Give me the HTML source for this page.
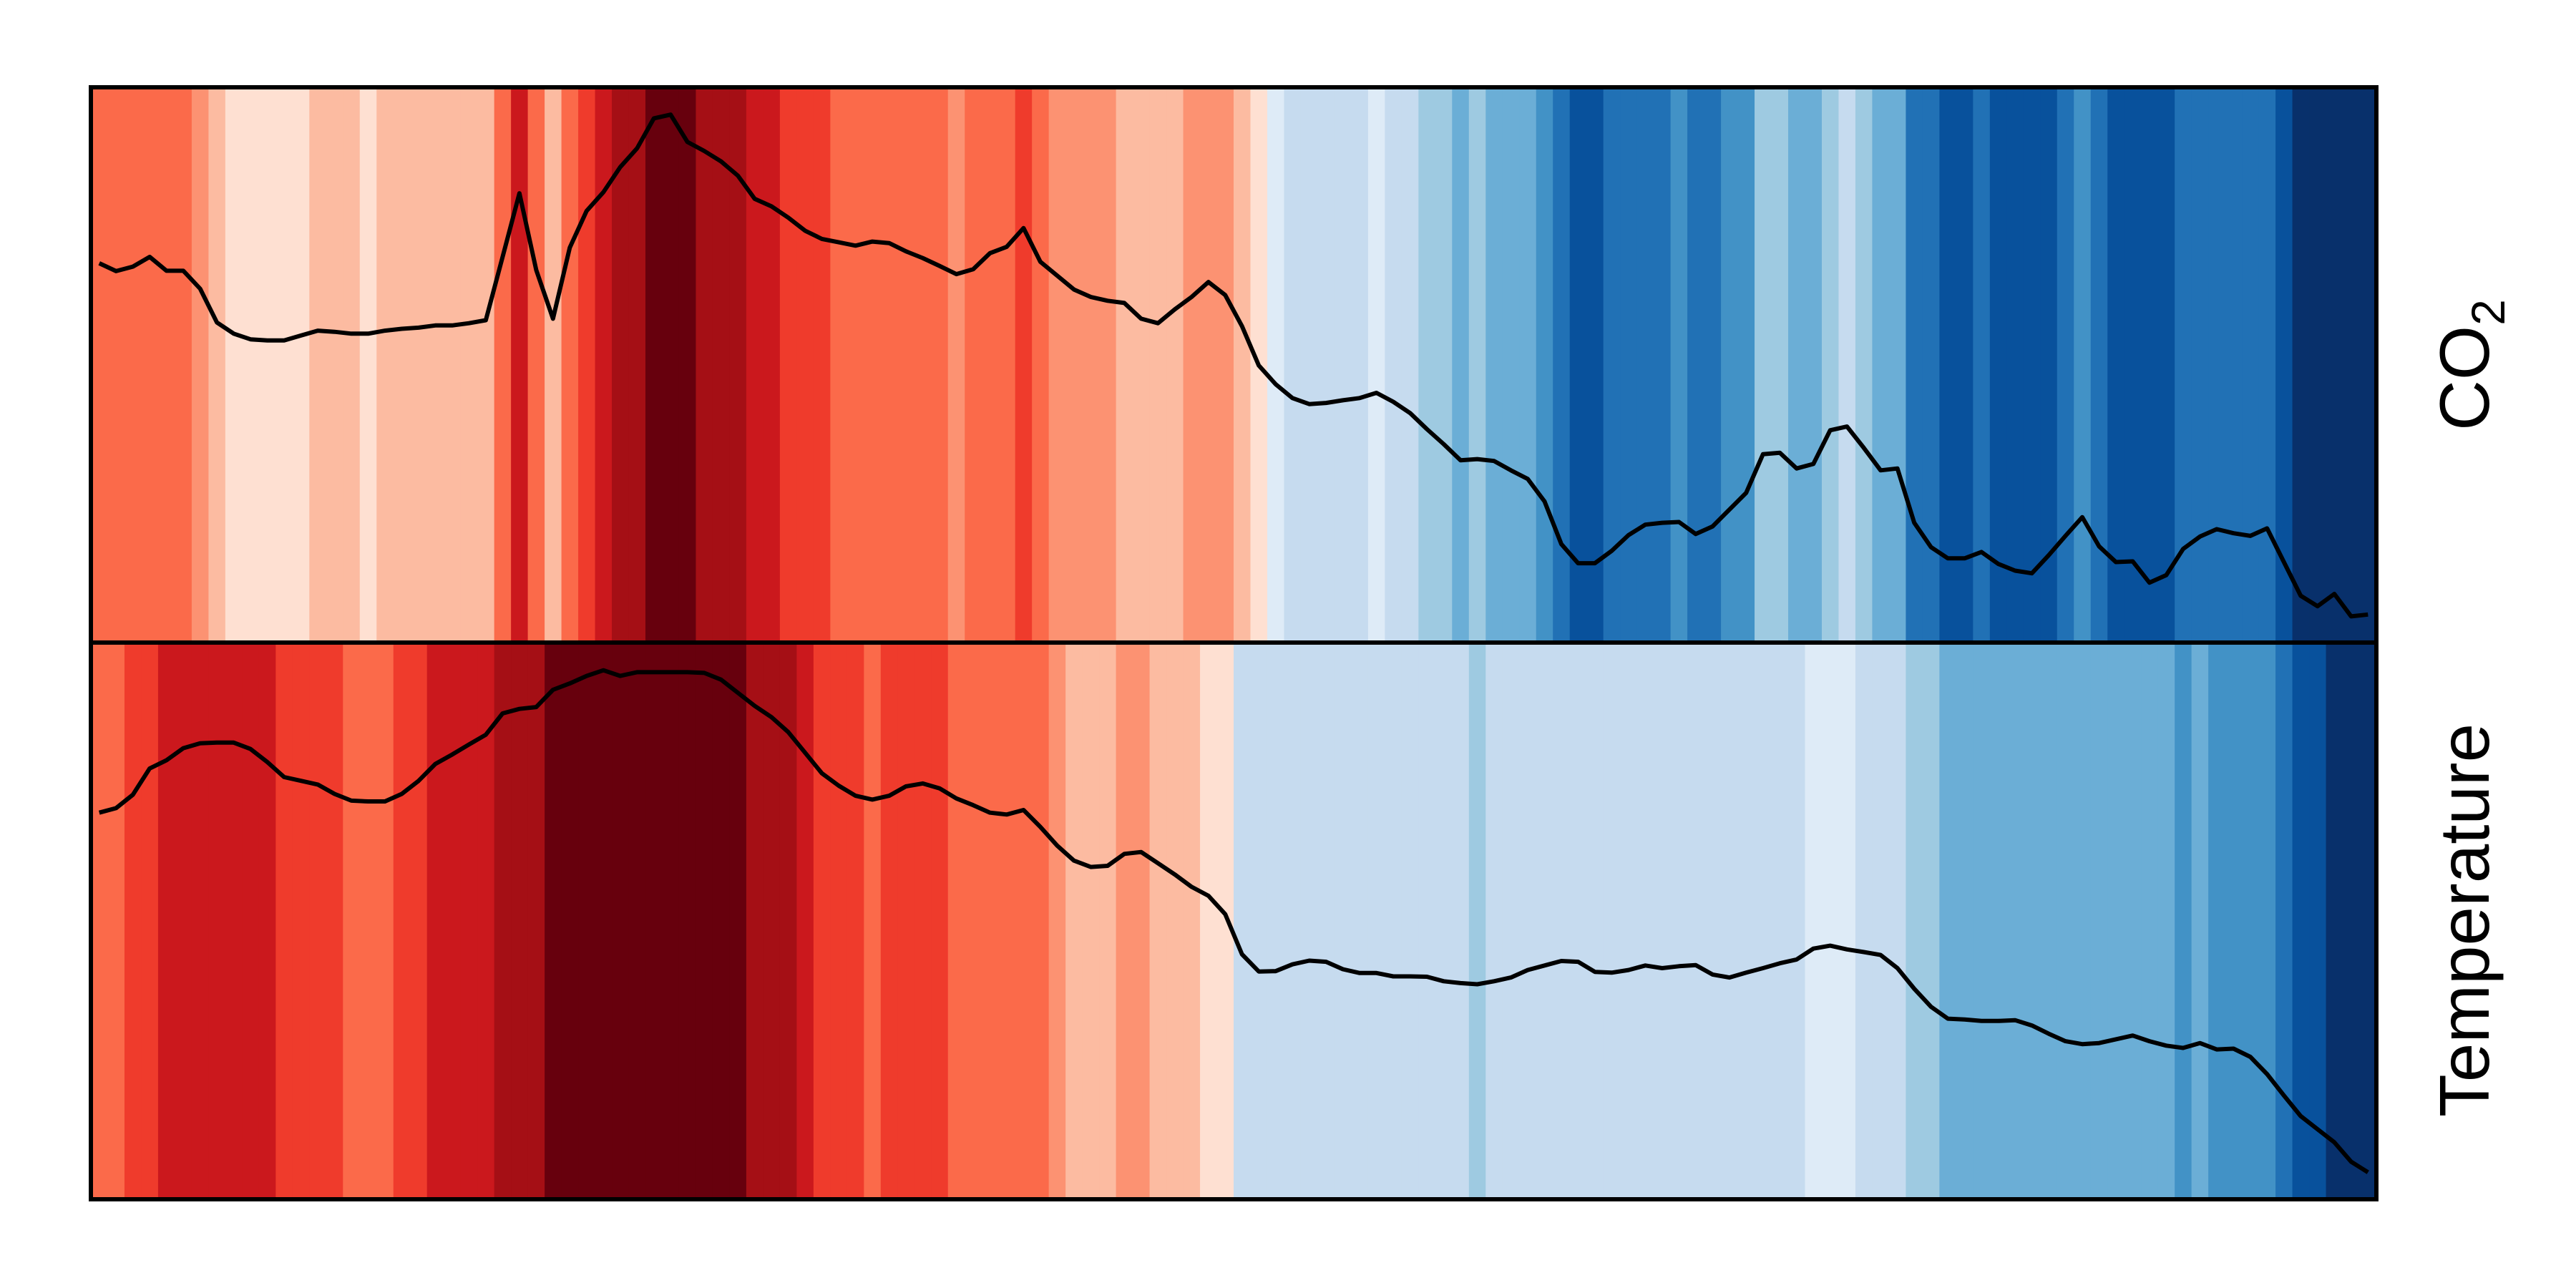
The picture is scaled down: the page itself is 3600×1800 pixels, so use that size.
<!DOCTYPE html>
<html><head><meta charset="utf-8"><style>
html,body{margin:0;padding:0;background:#fff;}
svg{display:block;}
</style></head><body>
<svg id="chart" width="3600" height="1800" viewBox="0 0 3600 1800" xmlns="http://www.w3.org/2000/svg">
<rect x="0" y="0" width="3600" height="1800" fill="#fff"/>
<g id="co2-panel"></g>
<g id="temp-panel"></g>
<text transform="translate(3478,510) rotate(-90)" text-anchor="middle" font-family="Liberation Sans, Arial, sans-serif" font-size="98">CO<tspan font-size="66" dy="22">2</tspan></text>
<text transform="translate(3478,1286) rotate(-90)" text-anchor="middle" font-family="Liberation Sans, Arial, sans-serif" font-size="98">Temperature</text>
</svg>
<script>
// Stripe colour levels: 1..8 = Reds light->dark, -1..-8 = Blues light->dark
const co2Levels = [4,4,4,4,4,4,3,2,1,1,1,1,1,2,2,2,1,2,2,2,2,2,2,2,4,6,4,2,4,5,6,7,7,8,8,8,7,7,7,6,6,5,5,5,4,4,4,4,4,4,4,3,4,4,4,5,4,3,3,3,3,2,2,2,2,3,3,3,2,1,-1,-2,-2,-2,-2,-2,-1,-2,-2,-3,-3,-4,-3,-4,-4,-4,-5,-6,-7,-7,-6,-6,-6,-6,-5,-6,-6,-5,-5,-3,-3,-4,-4,-3,-2,-3,-4,-4,-6,-6,-7,-7,-6,-7,-7,-7,-7,-6,-5,-6,-7,-7,-7,-7,-6,-6,-6,-6,-6,-6,-7,-8,-8,-8,-8,-8];
const tempLevels = [4,4,5,5,6,6,6,6,6,6,6,5,5,5,5,4,4,4,5,5,6,6,6,6,7,7,7,8,8,8,8,8,8,8,8,8,8,8,8,7,7,7,6,5,5,5,4,5,5,5,5,4,4,4,4,4,4,3,2,2,2,3,3,2,2,2,1,1,-2,-2,-2,-2,-2,-2,-2,-2,-2,-2,-2,-2,-2,-2,-3,-2,-2,-2,-2,-2,-2,-2,-2,-2,-2,-2,-2,-2,-2,-2,-2,-2,-2,-2,-1,-1,-1,-2,-2,-2,-3,-3,-4,-4,-4,-4,-4,-4,-4,-4,-4,-4,-4,-4,-4,-4,-5,-4,-5,-5,-5,-5,-6,-7,-7,-8,-8,-8];
// Line series (height above panel floor, arbitrary units)
const co2Values = [1013,992,1004,1030,993,993,945,855,825,810,807,807,820,833,830,825,825,833,838,841,847,847,853,861,1030,1200,995,865,1055,1153,1203,1270,1320,1400,1410,1337,1313,1285,1247,1185,1165,1135,1100,1078,1069,1060,1071,1067,1045,1027,1006,984,997,1040,1057,1107,1017,980,943,923,913,907,865,853,890,923,963,928,845,740,690,653,637,640,647,653,667,643,613,570,530,487,490,485,460,437,377,263,212,212,245,287,315,320,322,290,310,355,400,503,507,465,477,567,577,520,460,465,320,255,225,225,242,210,192,185,233,285,335,257,215,217,160,180,250,283,303,292,285,305,215,125,97,130,70,75];
const tempValues = [1032,1044,1080,1150,1172,1204,1217,1219,1219,1202,1167,1127,1117,1107,1082,1064,1062,1062,1082,1117,1162,1187,1214,1240,1297,1309,1314,1360,1377,1397,1412,1397,1407,1407,1407,1407,1405,1387,1352,1317,1287,1247,1192,1137,1104,1077,1067,1077,1102,1110,1097,1070,1052,1032,1027,1039,994,944,904,887,890,922,927,897,867,834,810,761,654,608,609,627,637,634,614,604,604,595,595,594,582,577,574,582,592,612,624,636,634,607,605,612,624,617,622,625,600,592,605,617,630,640,669,677,667,660,652,617,562,514,482,480,476,476,478,464,442,422,414,417,427,437,422,410,404,417,400,402,380,334,277,222,187,152,100,72];

const reds = ['#ffffff','#fee0d2','#fcbba1','#fc9272','#fb6a4a','#ef3b2c','#cb181d','#a50f15','#67000d'];
const blues = ['#ffffff','#deebf7','#c6dbef','#9ecae1','#6baed6','#4292c6','#2171b5','#08519c','#08306b'];
function colorFor(l){ return l>0 ? reds[l] : blues[-l]; }

const NS='http://www.w3.org/2000/svg';
const X0=127, X1=3321;
function drawPanel(g, levels, values, top, bottom, vmax, nameBase){
  const n = levels.length;
  const w = (X1-X0)/n;
  const xs = i => X0 + w*i;
  const ys = v => bottom - (v/vmax)*(bottom-top);
  for(let i=0;i<n;i++){
    const r=document.createElementNS(NS,'rect');
    r.setAttribute('x', xs(i)); r.setAttribute('y', top);
    r.setAttribute('width', w+0.8); r.setAttribute('height', bottom-top);
    r.setAttribute('fill', colorFor(levels[i]));
    
    
    g.appendChild(r);
  }
  let d='';
  values.forEach((v,i)=>{ d += (i?'L':'M') + (xs(i)+w/2).toFixed(1)+','+ys(v).toFixed(1); });
  const p=document.createElementNS(NS,'path');
  p.setAttribute('d', d); p.setAttribute('fill','none'); p.setAttribute('stroke','#000');
  p.setAttribute('stroke-width','6'); p.setAttribute('stroke-linejoin','round');
  
  
  g.appendChild(p);
  const b=document.createElementNS(NS,'rect');
  b.setAttribute('x', X0); b.setAttribute('y', top); b.setAttribute('width', X1-X0); b.setAttribute('height', bottom-top);
  b.setAttribute('fill','none'); b.setAttribute('stroke','#000'); b.setAttribute('stroke-width','6');
  
  
  g.appendChild(b);
}
drawPanel(document.getElementById('co2-panel'), co2Levels, co2Values, 122, 898, 1483, 'co2');
drawPanel(document.getElementById('temp-panel'), tempLevels, tempValues, 898, 1676, 1486, 'temperature');
</script>
</body></html>
